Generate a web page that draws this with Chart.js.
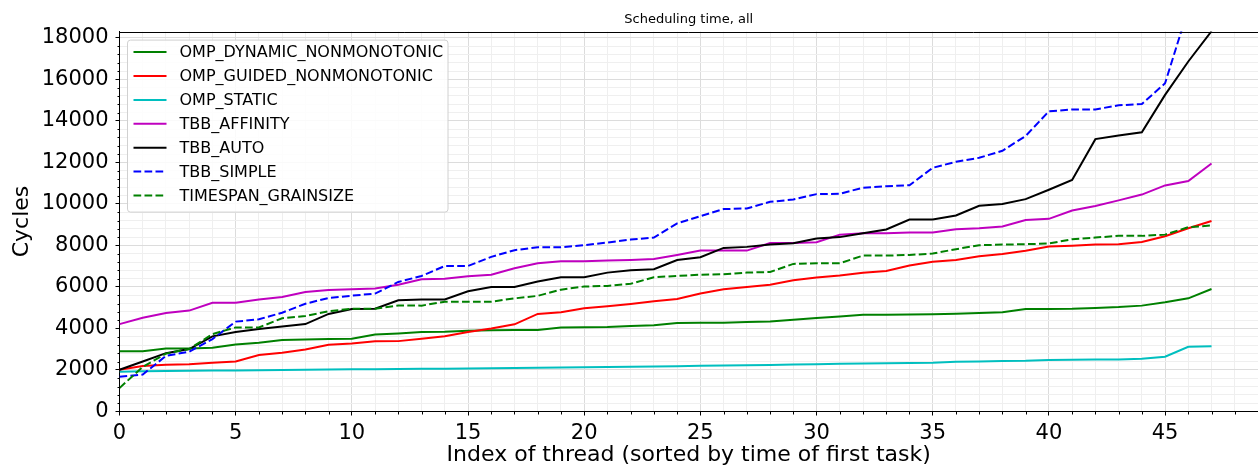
<!DOCTYPE html>
<html>
<head>
<meta charset="utf-8">
<title>Scheduling time, all</title>
<script src="https://cdn.jsdelivr.net/npm/chart.js@4.4.1/dist/chart.umd.min.js"></script>
<style>
  html, body { margin: 0; padding: 0; background: #fff; overflow: hidden; }
  #wrap { position: relative; width: 1258px; height: 470px; }
</style>
</head>
<body>
<div id="wrap"><canvas id="chart"></canvas></div>
<script>
// ---- data ----
const threadIndex = [0, 1, 2, 3, 4, 5, 6, 7, 8, 9, 10, 11, 12, 13, 14, 15, 16, 17, 18, 19, 20, 21, 22, 23,
  24, 25, 26, 27, 28, 29, 30, 31, 32, 33, 34, 35, 36, 37, 38, 39, 40, 41, 42, 43, 44, 45, 46, 47];

const ompDynamic = [2900, 2900, 3040, 3040, 3070, 3230, 3310, 3440, 3470, 3490, 3500, 3710, 3760, 3830, 3840, 3890,
  3910, 3920, 3930, 4050, 4060, 4070, 4120, 4150, 4260, 4270, 4280, 4310, 4330, 4420, 4500, 4580,
  4660, 4660, 4670, 4680, 4710, 4740, 4780, 4940, 4940, 4950, 4990, 5030, 5100, 5260, 5450, 5900];
const ompGuided = [2010, 2190, 2250, 2280, 2350, 2410, 2720, 2830, 2990, 3220, 3270, 3380, 3390, 3510, 3620, 3830,
  4000, 4200, 4700, 4780, 4970, 5070, 5180, 5310, 5420, 5680, 5890, 6000, 6110, 6320, 6450, 6550,
  6680, 6770, 7030, 7210, 7300, 7480, 7590, 7740, 7950, 7990, 8040, 8060, 8170, 8440, 8830, 9180];
const ompStatic = [1920, 1940, 1950, 1960, 1970, 1980, 1990, 2000, 2010, 2020, 2030, 2040, 2050, 2055, 2060, 2070,
  2080, 2090, 2110, 2120, 2130, 2140, 2160, 2170, 2180, 2200, 2210, 2230, 2240, 2260, 2280, 2300,
  2310, 2330, 2340, 2350, 2400, 2410, 2430, 2440, 2480, 2490, 2500, 2510, 2540, 2640, 3120, 3140];
const tbbAffinity = [4210, 4520, 4740, 4860, 5240, 5240, 5390, 5520, 5760, 5850, 5890, 5930, 6110, 6370, 6400, 6510,
  6590, 6900, 7140, 7240, 7240, 7270, 7300, 7350, 7540, 7750, 7750, 7750, 8120, 8120, 8150, 8520,
  8590, 8590, 8620, 8620, 8780, 8830, 8910, 9220, 9280, 9680, 9900, 10170, 10450, 10890, 11100, 11950];
const tbbAuto = [2010, 2410, 2810, 3010, 3620, 3830, 3970, 4090, 4210, 4700, 4940, 4950, 5360, 5400, 5400, 5790,
  6000, 6000, 6260, 6470, 6470, 6690, 6800, 6850, 7300, 7430, 7880, 7930, 8040, 8110, 8330, 8400,
  8590, 8770, 9250, 9250, 9440, 9910, 10000, 10230, 10680, 11150, 13120, 13290, 13450, 15250, 16860, 18320];
const tbbSimple = [1670, 1780, 2680, 2880, 3490, 4330, 4440, 4760, 5190, 5470, 5580, 5680, 6240, 6530, 7010, 7010,
  7450, 7770, 7910, 7910, 8010, 8140, 8280, 8380, 9060, 9410, 9750, 9780, 10100, 10210, 10470, 10490,
  10780, 10850, 10900, 11740, 12030, 12220, 12560, 13270, 14460, 14550, 14550, 14750, 14810, 15810, 19400, 21000];
const timespanGrain = [1130, 2150, 2790, 3010, 3730, 4050, 4050, 4490, 4600, 4830, 4950, 4950, 5110, 5100, 5290, 5290,
  5290, 5450, 5570, 5870, 6020, 6050, 6150, 6470, 6530, 6590, 6610, 6690, 6720, 7110, 7140, 7140,
  7510, 7510, 7540, 7610, 7820, 8010, 8040, 8060, 8090, 8300, 8380, 8460, 8460, 8520, 8880, 8960];

const seriesNames = ['OMP_DYNAMIC_NONMONOTONIC', 'OMP_GUIDED_NONMONOTONIC', 'OMP_STATIC',
  'TBB_AFFINITY', 'TBB_AUTO', 'TBB_SIMPLE', 'TIMESPAN_GRAINSIZE'];
const seriesValues = [ompDynamic, ompGuided, ompStatic, tbbAffinity, tbbAuto, tbbSimple, timespanGrain];

const xTickLabels = [0, 5, 10, 15, 20, 25, 30, 35, 40, 45];
const yTickLabels = [0, 2000, 4000, 6000, 8000, 10000, 12000, 14000, 16000, 18000];

// ---- styles ----
const COLORS = ['#008000', '#ff0000', '#00bfbf', '#bf00bf', '#000000', '#0000ff', '#008000'];
const DASHED = [false, false, false, false, false, true, true];
const DASH = [7.7, 3.3];
const LINE_W = 2;
const FONT = 'DejaVu Sans';
const X_MAX = 49, Y_MAX = 18300;
const MAJOR_GRID = '#dcdcdc', MINOR_GRID = '#efefef';

Chart.defaults.font.family = FONT;
Chart.defaults.color = '#000';

const isMajorX = v => xTickLabels.includes(v);
const isMajorY = v => yTickLabels.includes(v);

// top spine + short minor tick marks
const spinesPlugin = {
  id: 'spines',
  afterDraw(chart) {
    const { ctx, chartArea: a, scales } = chart;
    ctx.save();
    ctx.strokeStyle = '#000';
    ctx.lineWidth = 1;
    ctx.beginPath();
    const top = Math.round(a.top) + 0.5;
    ctx.moveTo(a.left, top);
    ctx.lineTo(a.right, top);
    const bottom = Math.round(a.bottom);
    scales.x.ticks.forEach(t => {
      if (isMajorX(t.value)) return;
      const px = Math.round(scales.x.getPixelForValue(t.value)) + 0.5;
      ctx.moveTo(px, bottom);
      ctx.lineTo(px, bottom + 2.5);
    });
    const left = Math.round(a.left);
    scales.y.ticks.forEach(t => {
      if (isMajorY(t.value)) return;
      const py = Math.round(scales.y.getPixelForValue(t.value)) + 0.5;
      ctx.moveTo(left, py);
      ctx.lineTo(left - 2.5, py);
    });
    ctx.stroke();
    ctx.restore();
  }
};

// matplotlib-like legend box in the upper-left corner of the plot
const boxLegendPlugin = {
  id: 'boxLegend',
  afterDraw(chart) {
    const { ctx, chartArea: a } = chart;
    const x0 = a.left + 8, y0 = a.top + 8.5;
    const w = 320.5, h = 172, rowH = 23.9;
    ctx.save();
    ctx.beginPath();
    ctx.roundRect(x0, y0, w, h, 3);
    ctx.fillStyle = 'rgba(255,255,255,0.85)';
    ctx.fill();
    ctx.strokeStyle = '#d0d0d0';
    ctx.lineWidth = 1;
    ctx.stroke();
    ctx.font = '16px "' + FONT + '"';
    ctx.textBaseline = 'middle';
    ctx.fillStyle = '#000';
    chart.data.datasets.forEach((ds, i) => {
      const cy = y0 + 12 + i * rowH;
      ctx.beginPath();
      ctx.setLineDash(ds.borderDash || []);
      ctx.strokeStyle = ds.borderColor;
      ctx.lineWidth = LINE_W;
      ctx.moveTo(x0 + 6, cy);
      ctx.lineTo(x0 + 39, cy);
      ctx.stroke();
      ctx.setLineDash([]);
      ctx.fillText(ds.label, x0 + 52, cy + 1);
    });
    ctx.restore();
  }
};

const datasets = seriesNames.map((name, i) => ({
  label: name,
  data: seriesValues[i],
  borderColor: COLORS[i],
  backgroundColor: COLORS[i],
  borderWidth: LINE_W,
  borderDash: DASHED[i] ? DASH : [],
  pointRadius: 0,
  tension: 0,
  fill: false,
  order: seriesNames.length - i,
}));

new Chart(document.getElementById('chart'), {
  type: 'line',
  data: { labels: threadIndex, datasets },
  plugins: [spinesPlugin, boxLegendPlugin],
  options: {
    responsive: true,
    maintainAspectRatio: false,
    animation: false,
    layout: { autoPadding: false, padding: { left: 0, right: 0, top: 0, bottom: 0 } },
    plugins: {
      legend: { display: false },
      tooltip: { enabled: false },
      title: {
        display: true,
        text: 'Scheduling time, all',
        fullSize: false,
        color: '#000',
        font: { size: 13, weight: 'normal' },
        padding: { top: 12, bottom: 4 },
      },
    },
    scales: {
      x: {
        type: 'linear',
        min: 0,
        max: X_MAX,
        afterBuildTicks: s => {
          const t = [];
          for (let v = 0; v <= X_MAX; v++) t.push({ value: v });
          s.ticks = t;
        },
        afterFit: s => {
          s.height = 470 - 411.5;
          s.paddingLeft = 0;
          s.paddingRight = 0;
        },
        ticks: {
          autoSkip: false,
          maxRotation: 0,
          padding: 5,
          font: { size: 21 },
          callback: v => (isMajorX(v) ? String(v) : ''),
        },
        grid: {
          color: c => (isMajorX(c.tick.value) ? MAJOR_GRID : MINOR_GRID),
          tickColor: c => (isMajorX(c.tick.value) ? '#000' : 'rgba(0,0,0,0)'),
          tickLength: 4,
        },
        border: { display: true, color: '#000', width: 1 },
        title: {
          display: true,
          text: 'Index of thread (sorted by time of first task)',
          font: { size: 22 },
          padding: { top: 0, bottom: 2 },
        },
      },
      y: {
        min: 0,
        max: Y_MAX,
        afterBuildTicks: s => {
          const t = [];
          for (let v = 0; v <= 18000; v += 400) t.push({ value: v });
          s.ticks = t;
        },
        afterFit: s => { s.width = 119.5; },
        ticks: {
          autoSkip: false,
          padding: 7,
          font: { size: 21 },
          callback: v => (isMajorY(v) ? String(v) : ''),
        },
        grid: {
          color: c => (isMajorY(c.tick.value) ? MAJOR_GRID : MINOR_GRID),
          tickColor: c => (isMajorY(c.tick.value) ? '#000' : 'rgba(0,0,0,0)'),
          tickLength: 4,
        },
        border: { display: true, color: '#000', width: 1 },
        title: {
          display: true,
          text: 'Cycles',
          font: { size: 22 },
          padding: { top: 9, bottom: 0 },
        },
      },
    },
  },
});
</script>
</body>
</html>
